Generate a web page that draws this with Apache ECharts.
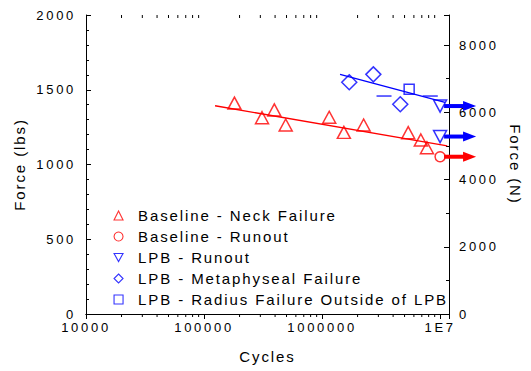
<!DOCTYPE html>
<html>
<head>
<meta charset="utf-8">
<script src="https://cdn.jsdelivr.net/npm/echarts@6/dist/echarts.min.js"></script>
<style>
  html, body { margin: 0; padding: 0; background: #fff; }
  #chart { width: 531px; height: 371px; }
</style>
</head>
<body>
<div id="chart"></div>
<script>
// cycles / force (lbs)
const neckX = [1.81e5, 3.1e5, 3.94e5, 4.92e5, 1.15e6, 1.53e6, 2.25e6, 5.37e6, 6.87e6, 7.74e6];
const neckY = [1411, 1313, 1365, 1264, 1316, 1215, 1264, 1213, 1164, 1112];

const baseRunX = [1.0e7];
const baseRunY = [1052];

const lpbRunX = [1.0e7, 1.0e7];
const lpbRunY = [1391, 1187];

const metaX = [1.70e6, 2.72e6, 4.6e6];
const metaY = [1550, 1603, 1403];

const radiusX = [5.47e6];
const radiusY = [1503];

// short blue dashes near the LPB fit
const dashX = [3.35e6, 8.26e6];
const dashY = [1458, 1458];

// fit lines (end points)
const redFitX = [1.24e5, 1.15e7];
const redFitY = [1393, 1124];
const blueFitX = [1.42e6, 1.1e7];
const blueFitY = [1603, 1415];

const legendNames = [
  'Baseline - Neck Failure',
  'Baseline - Runout',
  'LPB - Runout',
  'LPB - Metaphyseal Failure',
  'LPB - Radius Failure Outside of LPB'
];

const decades = [1e4, 1e5, 1e6];
const minorSteps = [2, 3, 4, 5, 6, 7, 8, 9];

const LBS_TO_N = 4.448;
const RED = '#ff0000';
const BLUE = '#0000ff';
const FONT = 'Liberation Sans, Arial, sans-serif';

// spaced-out lettering of the original export, by font size
const LETTER_SPACING = { '13px': 2.7, '15px': 1.9 };

function zip(xs, ys) {
  return xs.map((x, i) => [x, ys[i]]);
}

// log minor ticks for the x axis
const minorTicks = [];
decades.forEach(d => {
  minorSteps.forEach(k => minorTicks.push([d * k, 0]));
});

function minorTickItem(params, api) {
  const b = api.coord([api.value(0), 0]);
  const t = api.coord([api.value(0), 2000]);
  return {
    type: 'group',
    children: [
      { type: 'line', shape: { x1: b[0], y1: b[1], x2: b[0], y2: b[1] + 3 }, style: { stroke: '#000', lineWidth: 1 } },
      { type: 'line', shape: { x1: t[0], y1: t[1], x2: t[0], y2: t[1] + 3 }, style: { stroke: '#000', lineWidth: 1 } }
    ]
  };
}

function arrowItem(color) {
  return function (params, api) {
    const p = api.coord([api.value(0), api.value(1)]);
    const x0 = p[0] + 4, x1 = p[0] + 36, y = p[1];
    return {
      type: 'group',
      children: [
        { type: 'line', shape: { x1: x0, y1: y, x2: x1 - 10, y2: y }, style: { stroke: color, lineWidth: 4 } },
        { type: 'polygon', shape: { points: [[x1 - 13, y - 5], [x1, y], [x1 - 13, y + 5]] }, style: { fill: color } }
      ]
    };
  };
}

const hollow = (c) => ({ color: 'rgba(0,0,0,0)', borderColor: c, borderWidth: 1.5 });

const chart = echarts.init(document.getElementById('chart'), null, { renderer: 'svg' });

const option = {
  backgroundColor: '#ffffff',
  animation: false,
  textStyle: { fontFamily: FONT },
  grid: { left: 86, right: 73.5, top: 15, bottom: 57 },
  legend: {
    data: legendNames,
    orient: 'vertical',
    left: 108.5,
    top: 203,
    itemWidth: 9,
    itemHeight: 9,
    itemGap: 6,
    selectedMode: false,
    itemStyle: { borderWidth: 1.1 },
    textStyle: { fontFamily: FONT, fontSize: 15, color: '#000', padding: [0, 0, 0, 10] }
  },
  xAxis: [{
    type: 'log',
    logBase: 10,
    min: 1e4,
    max: 1.19e7,
    name: 'Cycles',
    nameLocation: 'middle',
    nameGap: 35,
    nameTextStyle: { fontSize: 15, color: '#000' },
    axisLine: { lineStyle: { color: '#000', width: 1 } },
    axisTick: { inside: false, length: 5, lineStyle: { color: '#000' } },
    axisLabel: {
      color: '#000', fontSize: 13, margin: 7,
      formatter: v => {
        const e = Math.log10(v);
        if (Math.abs(e - Math.round(e)) > 1e-6) return '';
        return v >= 1e7 ? '1E' + Math.round(e) : String(Math.round(v));
      }
    },
    splitLine: { show: false }
  }, {
    type: 'log',
    logBase: 10,
    min: 1e4,
    max: 1.19e7,
    position: 'top',
    axisLine: { lineStyle: { color: '#000', width: 1 } },
    axisTick: { inside: true, length: 5, lineStyle: { color: '#000' } },
    axisLabel: { show: false },
    splitLine: { show: false }
  }],
  yAxis: [{
    type: 'value',
    min: 0,
    max: 2000,
    interval: 500,
    name: 'Force (lbs)',
    nameLocation: 'middle',
    nameGap: 59,
    nameTextStyle: { fontSize: 15, color: '#000' },
    axisLine: { show: true, lineStyle: { color: '#000', width: 1 } },
    axisTick: { inside: true, length: 5, lineStyle: { color: '#000' } },
    minorTick: { show: true, splitNumber: 5, length: 3, lineStyle: { color: '#000' } },
    axisLabel: { color: '#000', fontSize: 13, margin: 10, formatter: v => String(v) },
    splitLine: { show: false }
  }, {
    type: 'value',
    min: 0,
    max: 2000 * LBS_TO_N,
    interval: 2000,
    position: 'right',
    name: 'Force (N)',
    nameLocation: 'middle',
    nameRotate: -90,
    nameGap: 59,
    nameTextStyle: { fontSize: 15, color: '#000' },
    axisLine: { show: true, lineStyle: { color: '#000', width: 1 } },
    axisTick: { inside: true, length: 5, lineStyle: { color: '#000' } },
    minorTick: { show: true, splitNumber: 2, length: 3, lineStyle: { color: '#000' } },
    axisLabel: {
      color: '#000', fontSize: 13, margin: 10,
      formatter: v => (v % 2000 === 0 ? String(v) : '')
    },
    splitLine: { show: false }
  }],
  series: [
    {
      type: 'custom', xAxisIndex: 0, yAxisIndex: 0, silent: true, clip: false,
      renderItem: minorTickItem, data: minorTicks, z: 1
    },
    {
      type: 'line', data: zip(redFitX, redFitY), showSymbol: false, symbol: 'none',
      lineStyle: { color: RED, width: 1.3 }, silent: true, z: 2
    },
    {
      type: 'line', data: zip(blueFitX, blueFitY), showSymbol: false, symbol: 'none',
      lineStyle: { color: BLUE, width: 1.3 }, silent: true, z: 2
    },
    {
      type: 'custom', clip: false, silent: true, z: 3,
      renderItem: arrowItem(RED), data: zip(baseRunX, baseRunY)
    },
    {
      type: 'custom', clip: false, silent: true, z: 3,
      renderItem: arrowItem(BLUE), data: zip(lpbRunX, lpbRunY)
    },
    {
      name: legendNames[0], type: 'scatter', symbol: 'triangle', symbolSize: [13, 12],
      itemStyle: hollow(RED), data: zip(neckX, neckY), z: 4
    },
    {
      name: legendNames[1], type: 'scatter', symbol: 'circle', symbolSize: 10,
      itemStyle: hollow(RED), data: zip(baseRunX, baseRunY), z: 4
    },
    {
      name: legendNames[2], type: 'scatter', symbol: 'path://M0,0L10,0L5,9Z', symbolSize: [13, 12],
      itemStyle: hollow(BLUE), data: zip(lpbRunX, lpbRunY), z: 4
    },
    {
      name: legendNames[3], type: 'scatter', symbol: 'diamond', symbolSize: 15,
      itemStyle: hollow(BLUE), data: zip(metaX, metaY), z: 4
    },
    {
      name: legendNames[4], type: 'scatter', symbol: 'rect', symbolSize: 10,
      itemStyle: hollow(BLUE), data: zip(radiusX, radiusY), z: 4
    },
    {
      type: 'scatter', symbol: 'rect', symbolSize: [15, 1.5],
      itemStyle: { color: BLUE }, data: zip(dashX, dashY), z: 4
    }
  ]
};

function spaceLetters() {
  document.querySelectorAll('#chart text').forEach(t => {
    const ls = LETTER_SPACING[getComputedStyle(t).fontSize];
    if (ls !== undefined) t.style.letterSpacing = ls + 'px';
  });
}

chart.on('finished', spaceLetters);
chart.setOption(option);
spaceLetters();
</script>
</body>
</html>
